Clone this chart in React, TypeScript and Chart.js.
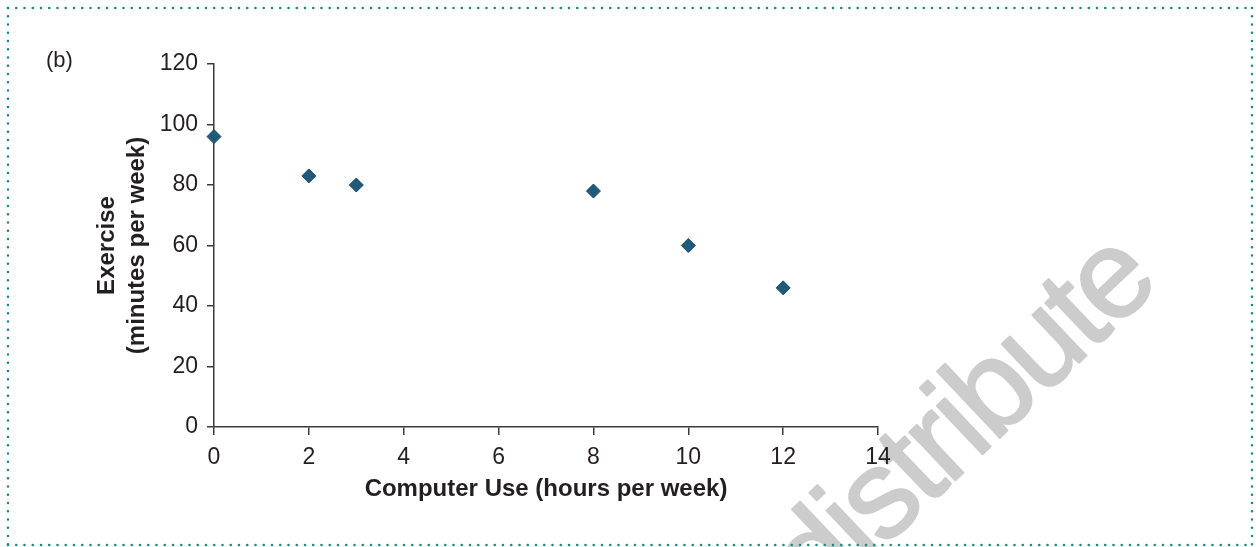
import React, { useEffect, useRef } from "react";
import { Chart, registerables } from "chart.js";

Chart.register(...registerables);

const computerUse = [0, 2, 3, 8, 10, 12];
const exercise = [96, 83, 80, 78, 60, 46];
const xRange = [0, 14];
const yRange = [0, 120];
const xStep = 2;
const yStep = 20;
const xTitle = "Computer Use (hours per week)";
const yTitle = ["Exercise", "(minutes per week)"];
const panelLabel = "(b)";
const watermark = "distribute";

const W = 1256;
const H = 547;
const FONT = "'Liberation Sans', Arial, Helvetica, sans-serif";
const TEXT = "#231f20";
const AXIS = "#3a3a3a";

const decorPlugin = {
  id: "decor",
  beforeDraw(chart: any) {
    const ctx = chart.ctx;
    ctx.save();
    ctx.fillStyle = "#ffffff";
    ctx.fillRect(0, 0, chart.width, chart.height);
    // watermark (drawn glyph by glyph with slightly tight spacing)
    ctx.font = `126px ${FONT}`;
    const spacing = -4;
    const chars = watermark.split("");
    const widths = chars.map((c) => ctx.measureText(c).width);
    const total = widths.reduce((a, b) => a + b, 0) + spacing * (chars.length - 1);
    ctx.translate(1163, 283);
    ctx.rotate((-43.5 * Math.PI) / 180);
    ctx.fillStyle = "#cccccc";
    ctx.strokeStyle = "#cccccc";
    ctx.lineWidth = 2;
    ctx.lineJoin = "round";
    ctx.textAlign = "left";
    ctx.textBaseline = "alphabetic";
    let pos = -total;
    chars.forEach((c, i) => {
      ctx.fillText(c, pos, 0);
      ctx.strokeText(c, pos, 0);
      pos += widths[i] + spacing;
    });
    ctx.restore();

    ctx.save();
    ctx.fillStyle = TEXT;
    ctx.font = `22px ${FONT}`;
    ctx.textAlign = "left";
    ctx.textBaseline = "middle";
    ctx.fillText(panelLabel, 46, 61);
    ctx.restore();
  },
  afterDraw(chart: any) {
    const ctx = chart.ctx;
    ctx.save();
    ctx.strokeStyle = "#178a88";
    ctx.lineWidth = 2.6;
    ctx.lineCap = "round";
    ctx.setLineDash([0, 8.25]);
    const segs = [
      [8, 8, 1252, 8],
      [8, 545, 1252, 545],
      [8, 8, 8, 545],
      [1252, 8, 1252, 545],
    ];
    for (const [x1, y1, x2, y2] of segs) {
      ctx.beginPath();
      ctx.moveTo(x1, y1);
      ctx.lineTo(x2, y2);
      ctx.stroke();
    }
    ctx.restore();
  },
};

export default function App() {
  const ref = useRef<HTMLCanvasElement | null>(null);

  useEffect(() => {
    if (!ref.current) return;
    const chart = new Chart(ref.current, {
      type: "scatter",
      data: {
        datasets: [
          {
            data: computerUse.map((x, i) => ({ x, y: exercise[i] })),
            pointStyle: "rectRot",
            pointRadius: 7,
            pointBackgroundColor: "#1f5a7a",
            pointBorderColor: "#1a4d69",
            pointBorderWidth: 1,
            clip: false,
          },
        ],
      },
      options: {
        animation: false,
        responsive: false,
        devicePixelRatio: 1,
        layout: { padding: { left: 0, top: 64, right: W - 878, bottom: 0 } },
        plugins: {
          legend: { display: false },
          tooltip: { enabled: false },
        },
        scales: {
          x: {
            type: "linear",
            min: xRange[0],
            max: xRange[1],
            ticks: {
              stepSize: xStep,
              color: TEXT,
              font: { family: FONT, size: 23 },
              padding: 9,
            },
            grid: {
              drawOnChartArea: false,
              drawTicks: true,
              tickLength: 8,
              color: AXIS,
              lineWidth: 1.5,
            },
            border: { display: true, color: AXIS, width: 1.5 },
            title: {
              display: true,
              text: xTitle,
              color: TEXT,
              font: { family: FONT, size: 24, weight: "bold", lineHeight: 1.2 },
              padding: { top: 0, bottom: 43 },
            },
            afterFit: (s: any) => {
              s.height = H - 427;
            },
          },
          y: {
            type: "linear",
            min: yRange[0],
            max: yRange[1],
            ticks: {
              stepSize: yStep,
              color: TEXT,
              font: { family: FONT, size: 23 },
              padding: 9,
            },
            grid: {
              drawOnChartArea: false,
              drawTicks: true,
              tickLength: 7,
              color: AXIS,
              lineWidth: 1.5,
            },
            border: { display: true, color: AXIS, width: 1.5 },
            title: {
              display: true,
              text: yTitle,
              color: TEXT,
              font: { family: FONT, size: 24, weight: "bold", lineHeight: 1.25 },
              padding: { top: 92, bottom: 0 },
            },
            afterFit: (s: any) => {
              s.width = 214;
            },
          },
        },
      } as any,
      plugins: [decorPlugin],
    });
    return () => chart.destroy();
  }, []);

  return (
    <div style={{ position: "fixed", left: 0, top: 0, width: W, height: H, background: "#fff" }}>
      <canvas ref={ref} width={W} height={H} style={{ display: "block", width: W, height: H }} />
    </div>
  );
}
